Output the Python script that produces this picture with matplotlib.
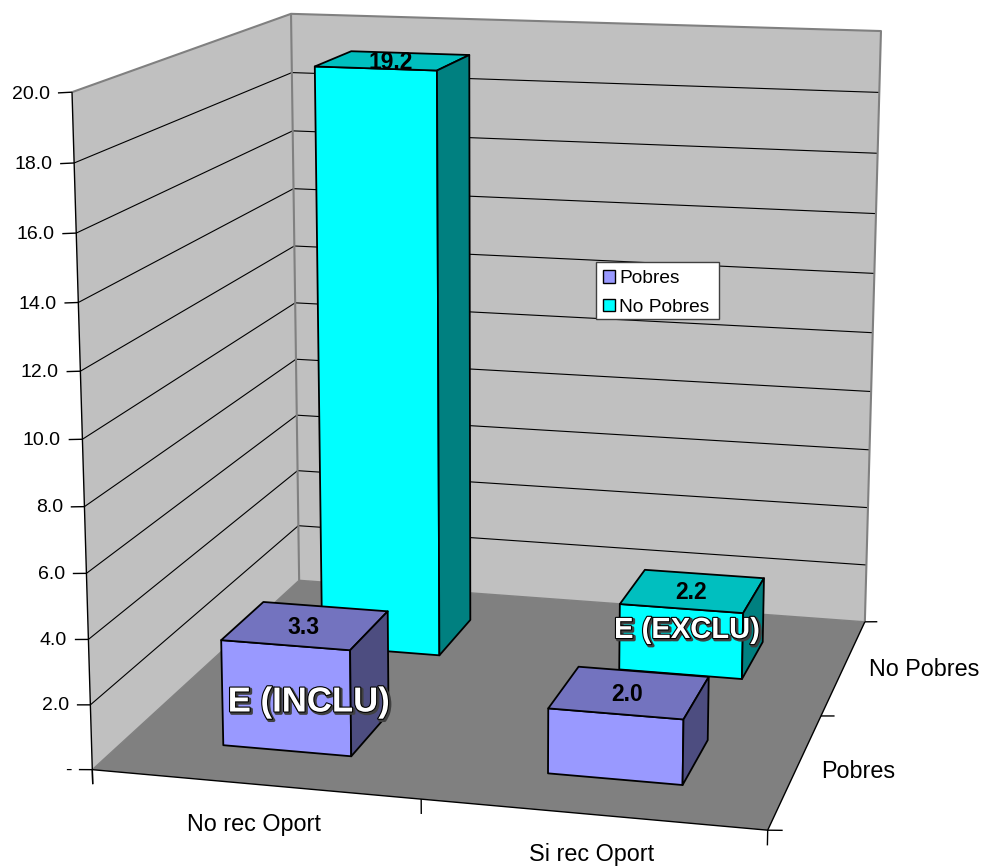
import numpy as np
import matplotlib
matplotlib.use("Agg")
import matplotlib.pyplot as plt
import matplotlib.patheffects as pe
from matplotlib.patches import Patch, Rectangle
from mpl_toolkits.mplot3d import proj3d
from mpl_toolkits.mplot3d.art3d import Poly3DCollection, Line3DCollection

plt.rcParams["font.family"] = ["Liberation Sans", "DejaVu Sans"]

categories = ["No rec Oport", "Si rec Oport"]
series = ["Pobres", "No Pobres"]
pobres = [3.3, 2.0]
no_pobres = [19.2, 2.2]
value_ticks = [0, 2, 4, 6, 8, 10, 12, 14, 16, 18, 20]

W, H = 984, 866
bar_width = 0.40
bar_depth = 0.40

# (face, top, side) colours per series
shades = {
    "Pobres": ("#9999FF", "#7373BF", "#4D4D80"),
    "No Pobres": ("#00FFFF", "#00BFBF", "#008080"),
}

# where the corners of the chart box sit on the page: (cat, series, value) -> pixel
box_world = np.array([
    [0, 0, 0], [2, 0, 0], [2, 2, 0], [0, 2, 0],
    [0, 0, 20], [0, 2, 20], [2, 2, 20],
], dtype=float)
box_pixels = np.array([
    [92.5, 770], [767.5, 830], [865, 622], [299, 580],
    [72, 92], [291, 14], [881, 31],
], dtype=float)

fig = plt.figure(figsize=(W / 100, H / 100), dpi=100)
ax = fig.add_axes([0, 0, 1, 1], projection="3d")
ax.apply_aspect = lambda position=None: None  # keep the axes on the whole page
ax.set_xticks([])
ax.set_yticks([])
ax.set_zticks([])
ax.set_axis_off()


def fit_camera(world, pixels):
    # direct linear transform, so the box lands where it should
    display = np.column_stack([pixels[:, 0], H - pixels[:, 1]])
    view = ax.transData.inverted().transform(display)
    rows = []
    for (x, y, z), (u, v) in zip(world, view):
        rows.append([x, y, z, 1, 0, 0, 0, 0, -u * x, -u * y, -u * z, -u])
        rows.append([0, 0, 0, 0, x, y, z, 1, -v * x, -v * y, -v * z, -v])
    p = np.linalg.svd(np.array(rows))[2][-1].reshape(3, 4)
    if (p[2] @ np.append(world[0], 1)) < 0:
        p = -p
    p = p / (p[2] @ np.append(world[0], 1))
    depth = p[2] - np.array([0, 0, 0, 0.5])
    return np.vstack([p[0], p[1], depth, p[2]])


camera = fit_camera(box_world, box_pixels)
ax.get_proj = lambda: camera
ax.M = camera
ax.computed_zorder = False


def add_face(corners, color, edge="none", lw=0, z=1):
    poly = Poly3DCollection([corners], facecolors=color, edgecolors=edge, linewidths=lw, zorder=z)
    ax.add_collection3d(poly)


def add_lines(segments, color="black", lw=1.0, z=2):
    lines = Line3DCollection(segments, colors=color, linewidths=lw, zorder=z)
    ax.add_collection3d(lines, autolim=False)


def add_label(x, y, z, text, **kwargs):
    # text keeps its upright 2D form, only the anchor goes through the camera
    px, py, _ = proj3d.proj_transform(x, y, z, camera)
    ax.text2D(px, py, text, transform=ax.transData, **kwargs)


# floor and walls
add_face([(0, 0, 0), (2, 0, 0), (2, 2, 0), (0, 2, 0)], "#808080", z=1)
add_face([(0, 0, 0), (0, 2, 0), (0, 2, 20), (0, 0, 20)], "#C0C0C0", z=1)
add_face([(0, 2, 0), (2, 2, 0), (2, 2, 20), (0, 2, 20)], "#C0C0C0", z=1)

# gridlines run along the left wall and then the back wall
add_lines([[(0, 0, v), (0, 2, v), (2, 2, v)] for v in value_ticks[1:-1]], lw=0.8)

add_lines([[(0, 0, 20), (0, 2, 20), (2, 2, 20), (2, 2, 0)],
           [(0, 2, 0), (0, 2, 20)]], color="#808080", lw=1.5)
add_lines([[(0, 0, 0), (0, 2, 0), (2, 2, 0)]], color="#808080", lw=1.0)

# axis lines and tick marks, the small z shift keeps the ticks level on the page
add_lines([[(0, 0, -0.45), (0, 0, 20)], [(0, 0, 0), (2, 0, 0), (2, 2, 0)]])
add_lines([[(-0.042, 0, v - 0.035), (0, 0, v)] for v in value_ticks])
add_lines([[(c, 0, -0.45), (c, 0, 0)] for c in range(len(categories) + 1)])
add_lines([[(2, s, 0), (2.042, s, 0.035)] for s in range(len(series) + 1)])

for v in value_ticks:
    label = "-" if v == 0 else f"{v:.1f}"
    add_label(-0.066, 0, v - 0.08, label, ha="right", va="center", fontsize=14, zorder=2)


def draw_bar(cat, ser, value, name, z):
    x0, x1 = cat + 0.5 - bar_width / 2, cat + 0.5 + bar_width / 2
    y0, y1 = ser + 0.5 - bar_depth / 2, ser + 0.5 + bar_depth / 2
    face, top, side = shades[name]
    style = dict(edge="black", lw=1.3, z=z)
    add_face([(x0, y0, 0), (x1, y0, 0), (x1, y0, value), (x0, y0, value)], face, **style)
    add_face([(x0, y0, value), (x1, y0, value), (x1, y1, value), (x0, y1, value)], top, **style)
    add_face([(x1, y0, 0), (x1, y1, 0), (x1, y1, value), (x1, y0, value)], side, **style)
    add_label(cat + 0.5 - 0.005, ser + 0.5, value, f"{value:.1f}", ha="center", va="center_baseline",
              fontsize=16.5, fontweight="bold", zorder=z + 0.5)


# back row first so the front row paints over it
draw_bar(0, 1, no_pobres[0], "No Pobres", 3)
draw_bar(1, 1, no_pobres[1], "No Pobres", 4)
draw_bar(0, 0, pobres[0], "Pobres", 5)
draw_bar(1, 0, pobres[1], "Pobres", 6)

# category labels
fig.text(254 / W, 1 - 825 / H, categories[0], ha="center", va="center", fontsize=16.8)
fig.text(592 / W, 1 - 855 / H, categories[1], ha="center", va="center", fontsize=16.8)
fig.text(858 / W, 1 - 771 / H, series[0], ha="center", va="center", fontsize=16.8)
fig.text(924 / W, 1 - 669 / H, series[1], ha="center", va="center", fontsize=16.8)

# outlined word-art style captions
outline = [
    pe.Stroke(linewidth=2.4, foreground="#404040", offset=(1.2, -1.2)),
    pe.Stroke(linewidth=1.6, foreground="black"),
    pe.Normal(),
]
for x, y, text, size in [(309, 702, "E (INCLU)", 25), (687, 630, "E (EXCLU)", 21)]:
    caption = fig.text(x / W, 1 - y / H, text, ha="center", va="center", color="white",
                       fontsize=size, fontweight="bold", zorder=10)
    caption.set_path_effects(outline)

# legend box
fig.add_artist(Rectangle((596 / W, 1 - 319 / H), 123 / W, 57 / H, transform=fig.transFigure,
                         facecolor="white", edgecolor="#404040", linewidth=1.0, zorder=5))
handles = [
    Patch(facecolor=shades[name][0], edgecolor="black", linewidth=1.0, label=name)
    for name in series
]
leg = fig.legend(handles=handles, loc="upper left", bbox_to_anchor=(595 / W, 1 - 262 / H),
                 borderaxespad=0, fontsize=13.8, frameon=False, handlelength=0.62,
                 handleheight=0.62, handletextpad=0.22, labelspacing=0.6, borderpad=0.42)
leg.set_zorder(6)

fig.savefig("out.png", dpi=100)
